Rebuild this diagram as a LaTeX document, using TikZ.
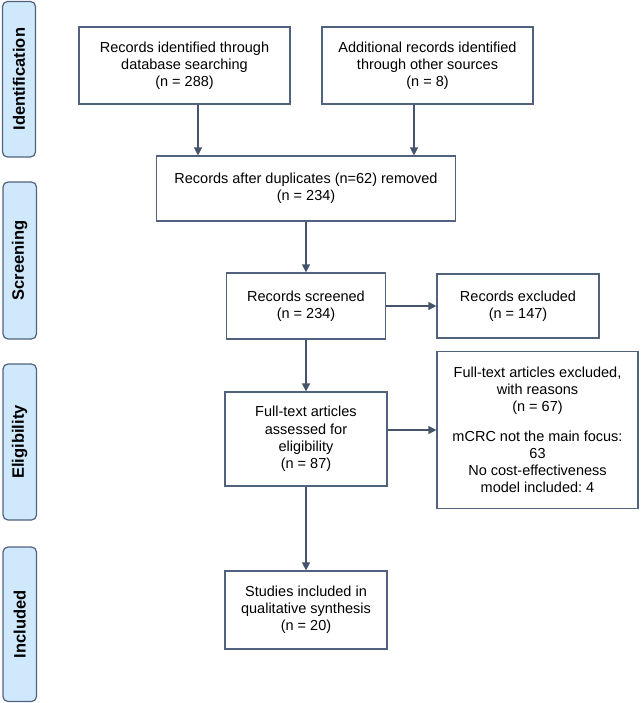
\documentclass[tikz,border=0pt]{standalone}
\usepackage{fontspec}
\setmainfont{Liberation Sans}
\usetikzlibrary{arrows.meta}
\definecolor{boxc}{HTML}{51627E}
\definecolor{arrc}{HTML}{44546A}
\definecolor{barfill}{HTML}{CFE8FB}
\frenchspacing
\begin{document}
\begin{tikzpicture}[x=1pt,y=-1pt,
  flowbox/.style={draw=boxc,line width=1.2pt,fill=white,rectangle,align=center,inner sep=0pt,
    font=\fontsize{14.5}{17.2}\selectfont\frenchspacing,text=black},
  sidebar/.style={draw=boxc,line width=1.2pt,fill=barfill,rounded corners=5pt},
  sidelabel/.style={rotate=90,font=\fontsize{16.5}{18}\selectfont\bfseries,text=black},
  flowarrow/.style={draw=arrc,line width=1.4pt,-{Triangle[length=8pt,width=8pt]}}]
\useasboundingbox (0,0) rectangle (640,703);

% side bars
\draw[sidebar] (2.5,1.5) rectangle (35.5,157) node[midway,sidelabel] (lid) {Identification};
\draw[sidebar] (3,182) rectangle (36.5,339) node[midway,sidelabel] (lsc) {Screening};
\draw[sidebar] (3,364) rectangle (36.5,520) node[midway,sidelabel] (lel) {Eligibility};
\draw[sidebar] (3,547) rectangle (36.5,701.5) node[midway,sidelabel] (lin) {Included};

% boxes
\node[flowbox,minimum width=211,minimum height=77] (b1) at (184.5,65.5)
  {Records identified through\\database searching\\(n = 288)};
\node[flowbox,minimum width=211,minimum height=77] (b2) at (427.5,65.5)
  {Additional records identified\\through other sources\\(n = 8)};
\node[flowbox,minimum width=299,minimum height=65] (b3) at (306,188.5)
  {Records after duplicates (n=62) removed\\(n = 234)};
\node[flowbox,minimum width=159,minimum height=66] (b4) at (306,306)
  {Records screened\\(n = 234)};
\node[flowbox,minimum width=162,minimum height=64] (b5) at (518,306)
  {Records excluded\\(n = 147)};
\node[flowbox,minimum width=162,minimum height=94] (b7) at (306,439)
  {Full-text articles\\assessed for\\eligibility\\(n = 87)};
\node[flowbox,minimum width=201,minimum height=157] (b6) at (537.5,430)
  {Full-text articles excluded,\\with reasons\\(n = 67)\\[12pt]mCRC not the main focus:\\63\\No cost-effectiveness\\model included: 4};
\node[flowbox,minimum width=162,minimum height=78] (b8) at (306,610)
  {Studies included in\\qualitative synthesis\\(n = 20)};

% arrows
\draw[flowarrow] ([xshift=13.5]b1.south) -- ([xshift=13.5]b1.south |- b3.north);
\draw[flowarrow] ([xshift=-13.5]b2.south) -- ([xshift=-13.5]b2.south |- b3.north);
\draw[flowarrow] (b3.south) -- (b4.north);
\draw[flowarrow] (b4.east) -- (b4.east -| b5.west);
\draw[flowarrow] (b4.south) -- (b7.north);
\draw[flowarrow] (b7.east |- b6.west) -- (b6.west);
\draw[flowarrow] (b7.south) -- (b8.north);
\end{tikzpicture}
\end{document}
